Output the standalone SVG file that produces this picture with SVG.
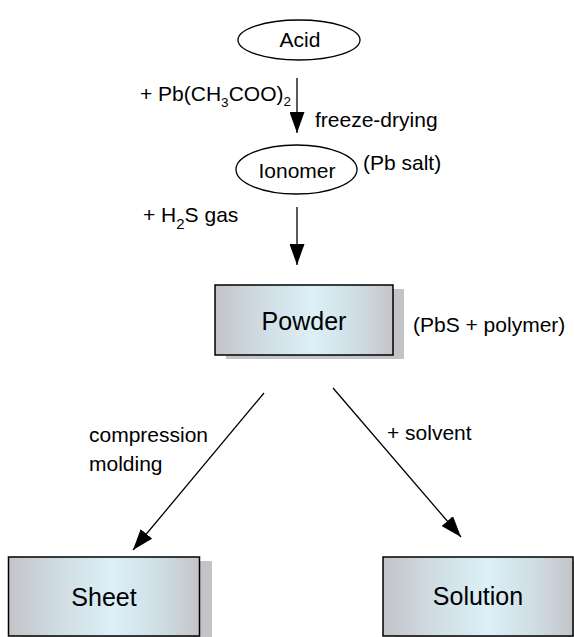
<svg xmlns="http://www.w3.org/2000/svg" width="574" height="637" viewBox="0 0 574 637">
<style>
text{font-family:"Liberation Sans",Arial,Helvetica,sans-serif;fill:#000}
.lbl{font-size:21px}
.box{font-size:25px;text-anchor:middle}
.ell{fill:#fff;stroke:#000;stroke-width:1.3}
.rect{fill:url(#grad);stroke:#000;stroke-width:1.5}
.shadow{fill:#c4c4c8}
.conn{stroke:#000;stroke-width:1.3;fill:none;marker-end:url(#arr)}
</style>
<defs>
<linearGradient id="grad" x1="0" y1="0" x2="1" y2="0">
<stop offset="0" stop-color="#c3c4c8"/>
<stop offset="0.25" stop-color="#cfdbe2"/>
<stop offset="0.55" stop-color="#dcf0f7"/>
<stop offset="0.8" stop-color="#cfdde4"/>
<stop offset="1" stop-color="#c3c4c8"/>
</linearGradient>
<marker id="arr" markerUnits="userSpaceOnUse" markerWidth="21" markerHeight="15" viewBox="0 0 21 15" refX="21" refY="7.5" orient="auto">
<path d="M0,0 L21,7.5 L0,15 Z" fill="#000"/>
</marker>
</defs>
<g id="connectors">
<line class="conn" x1="297" y1="78" x2="297" y2="133"/>
<line class="conn" x1="297" y1="207" x2="297" y2="265"/>
<line class="conn" x1="264" y1="393" x2="133" y2="550"/>
<line class="conn" x1="333" y1="388" x2="461" y2="537"/>
</g>
<g id="acid">
<ellipse class="ell" cx="299" cy="40" rx="61" ry="20"/>
<text class="lbl" x="300" y="47" text-anchor="middle" font-size="20">Acid</text>
</g>
<g id="ionomer">
<ellipse class="ell" cx="296.5" cy="169.5" rx="60.5" ry="24.5"/>
<text class="lbl" x="297" y="178" text-anchor="middle">Ionomer</text>
</g>
<g id="powder">
<rect class="shadow" x="226" y="289" width="178" height="70"/>
<rect class="rect" x="215" y="285" width="178" height="70"/>
<text class="box" x="304" y="330">Powder</text>
</g>
<g id="sheet">
<rect class="shadow" x="21" y="561" width="191" height="80"/>
<rect class="rect" x="8.5" y="557" width="191" height="79"/>
<text class="box" x="104" y="606">Sheet</text>
</g>
<g id="solution">
<rect class="shadow" x="395" y="561" width="190" height="80"/>
<rect class="rect" x="383" y="557" width="190" height="79"/>
<text class="box" x="478" y="605">Solution</text>
</g>
<g id="labels">
<text class="lbl" x="140" y="101" font-size="19.5">+ Pb(CH<tspan font-size="13.5" dy="6">3</tspan><tspan dy="-6">COO)</tspan><tspan font-size="13.5" dy="5">2</tspan></text>
<text class="lbl" x="315" y="127">freeze-drying</text>
<text class="lbl" x="363" y="170">(Pb  salt)</text>
<text class="lbl" x="143" y="222">+ H<tspan font-size="15" dy="7">2</tspan><tspan dy="-7">S gas</tspan></text>
<text class="lbl" x="413" y="332">(PbS + polymer)</text>
<text class="lbl" x="89" y="442" font-size="22">compression</text>
<text class="lbl" x="89" y="471" font-size="22">molding</text>
<text class="lbl" x="387" y="440">+ solvent</text>
</g>
</svg>
